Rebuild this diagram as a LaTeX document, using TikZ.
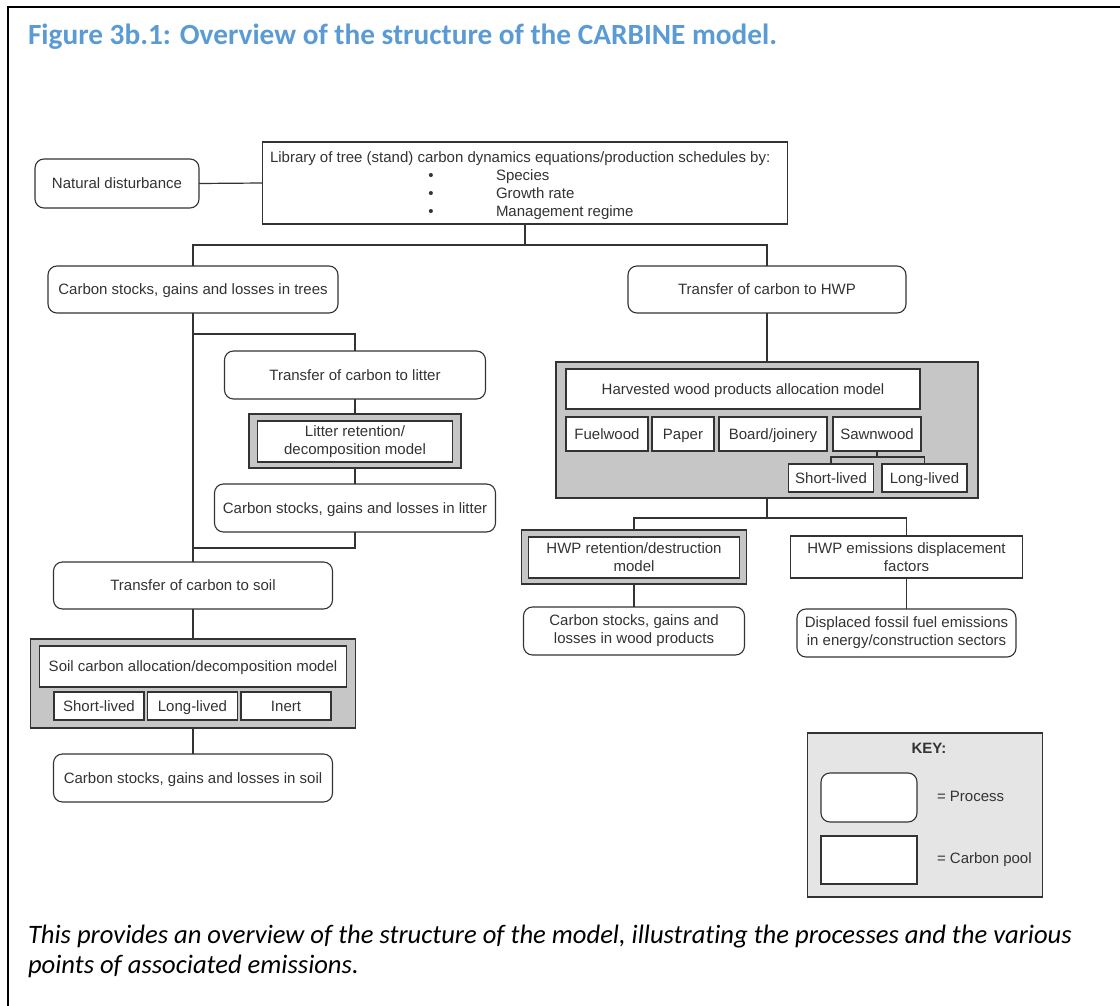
\documentclass[tikz,border=0pt]{standalone}
\usepackage{fontspec}
\setmainfont{Liberation Sans}
\newfontfamily\calibri[Ligatures=NoCommon]{Carlito}
\definecolor{titleblue}{HTML}{5B9BD5}
\definecolor{ln}{HTML}{333333}
\begin{document}
\begin{tikzpicture}[x=1pt,y=-1pt,
  every node/.style={font=\fontsize{15}{18}\selectfont, text=ln, inner sep=0pt, outer sep=0pt},
  proc/.style={draw=ln, line width=1.1pt, rounded corners=9pt, fill=white, align=center},
  pool/.style={draw=ln, line width=1.1pt, fill=white, align=center},
  modl/.style={draw=ln, line width=1.1pt, fill=gray!45},
  conn/.style={draw=ln, line width=1.2pt},
  lbl/.style={anchor=base west},
  sl/.style={text height=10.7pt, text depth=0pt},
]
\useasboundingbox (0,0) rectangle (1120,1006);
% frame
\draw[line width=2.2pt, black] (8,1006) -- (8,7) -- (1120,7);
% title
\node[lbl, font=\calibri\bfseries\fontsize{29.3}{34}\selectfont, text=titleblue] (title) at (28,45) {Figure 3b.1: Overview of the structure of the CARBINE model.};

% junction points
\coordinate (j1) at (525,245);
\coordinate (ja) at (193,334);
\coordinate (jb) at (193,548);
\coordinate (js) at (877,457);
\coordinate (jc) at (767,518);

% top
\node[proc, sl, minimum width=164, minimum height=49] (nat) at (117,183.5) {Natural disturbance};
\node[pool, minimum width=525, minimum height=82] (lib) at (525,183) {};
\node[lbl] (libt) at (270,163) {Library of tree (stand) carbon dynamics equations/production schedules by:};
\node[anchor=base] (b1) at (431,180.5) {•};
\node[anchor=base] (b2) at (431,198.5) {•};
\node[anchor=base] (b3) at (431,216.5) {•};
\node[lbl] (s1) at (496,180.5) {Species};
\node[lbl] (s2) at (496,198.5) {Growth rate};
\node[lbl] (s3) at (496,216.5) {Management regime};

\node[proc, sl, minimum width=290, minimum height=47] (trees) at (193,289.5) {Carbon stocks, gains and losses in trees};
\node[proc, sl, minimum width=278, minimum height=47] (hwpt) at (767,289.5) {Transfer of carbon to HWP};

% litter branch
\node[proc, sl, minimum width=261, minimum height=48] (litT) at (355,375) {Transfer of carbon to litter};
\node[modl, minimum width=212, minimum height=54] (litM) at (355,441) {};
\node[pool, minimum width=195, minimum height=41] (litMi) at (355,441.5) {Litter retention/\\decomposition model};
\node[proc, sl, minimum width=281, minimum height=48] (litS) at (355,508) {Carbon stocks, gains and losses in litter};

% soil branch
\node[proc, sl, minimum width=279, minimum height=47] (soilT) at (193,585.5) {Transfer of carbon to soil};
\node[modl, minimum width=325, minimum height=89] (soilM) at (193,683.5) {};
\node[pool, sl, minimum width=307, minimum height=41] (soilMi) at (193,666.5) {Soil carbon allocation/decomposition model};
\node[pool, sl, minimum width=90, minimum height=28] (sShort) at (99,706) {Short-lived};
\node[pool, sl, minimum width=90, minimum height=28] (sLong) at (192.5,706) {Long-lived};
\node[pool, sl, minimum width=90, minimum height=28] (sInert) at (286,706) {Inert};
\node[proc, sl, minimum width=279, minimum height=48] (soilS) at (193,778) {Carbon stocks, gains and losses in soil};

% HWP branch
\node[modl, minimum width=422, minimum height=136] (hwpM) at (767,430) {};
\node[pool, sl, minimum width=354, minimum height=40] (hwpMi) at (743,389) {Harvested wood products allocation model};
\node[pool, sl, minimum width=82, minimum height=34] (fuel) at (607,434) {Fuelwood};
\node[pool, sl, minimum width=62, minimum height=34] (paper) at (683,434) {Paper};
\node[pool, sl, minimum width=108, minimum height=34] (board) at (773,434) {Board/joinery};
\node[pool, sl, minimum width=88, minimum height=34] (sawn) at (877,434) {Sawnwood};
\node[pool, sl, minimum width=85, minimum height=28] (hShort) at (831,478) {Short-lived};
\node[pool, sl, minimum width=85, minimum height=28] (hLong) at (924.5,478) {Long-lived};

\node[modl, minimum width=225, minimum height=54] (retM) at (634,557) {};
\node[pool, minimum width=211, minimum height=41] (retMi) at (634,557.5) {HWP retention/destruction\\model};
\node[proc, minimum width=221, minimum height=48] (woodS) at (634,631) {Carbon stocks, gains and\\losses in wood products};
\node[pool, minimum width=232, minimum height=42] (disp) at (906.5,557) {HWP emissions displacement\\factors};
\node[proc, minimum width=219, minimum height=48] (dispS) at (906.5,633) {Displaced fossil fuel emissions\\in energy/construction sectors};

% key
\node[draw=ln, line width=1.1pt, fill=black!10, minimum width=234.5, minimum height=164] (key) at (925,815) {};
\node[font=\bfseries\fontsize{15}{18}\selectfont] (keyt) at (929,748) {KEY:};
\node[proc, minimum width=96, minimum height=49] (kp) at (869,797.5) {};
\node[pool, minimum width=96, minimum height=48] (kc) at (869,860) {};
\node[anchor=west, sl] (kpl) at (937,796) {= Process};
\node[anchor=west, sl] (kcl) at (937,858) {= Carbon pool};

% caption
\node[lbl, font=\calibri\itshape\fontsize{26.6}{31}\selectfont, text=black] (cap1) at (28,943) {This provides an overview of the structure of the model, illustrating the processes and the various};
\node[lbl, font=\calibri\itshape\fontsize{26.6}{31}\selectfont, text=black] (cap2) at (28,973) {points of associated emissions.};

% connectors
\draw[conn] (nat.east) -- (lib.west);
\draw[conn] (lib.south) -- (j1);
\draw[conn] (trees.north) |- (j1) -| (hwpt.north);
\draw[conn] (trees.south) -- (soilT.north);
\draw[conn] (ja) -| (litT.north);
\draw[conn] (litT.south) -- (litM.north);
\draw[conn] (litM.south) -- (litS.north);
\draw[conn] (litS.south) |- (jb);
\draw[conn] (soilT.south) -- (soilM.north);
\draw[conn] (soilM.south) -- (soilS.north);
\draw[conn] (hwpt.south) -- (hwpM.north);
\draw[conn] (sawn.south) -- (js);
\draw[conn] (hShort.north) |- (js) -| (hLong.north);
\draw[conn] (hwpM.south) -- (jc);
\draw[conn] (retM.north) |- (jc) -| (disp.north);
\draw[conn] (retM.south) -- (woodS.north);
\draw[conn] (disp.south) -- (dispS.north);
\end{tikzpicture}
\end{document}
